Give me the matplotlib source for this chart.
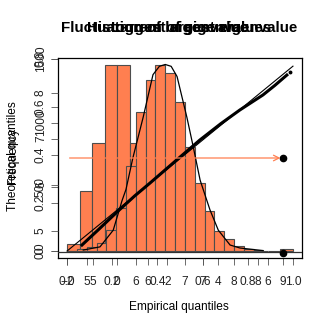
import numpy as np
import matplotlib
matplotlib.use("Agg")
import matplotlib.pyplot as plt

plt.rcParams["font.family"] = ["Liberation Sans", "DejaVu Sans"]

# ── data ─────────────────────────────────────────────────────
# histogram of all eigenvalues (bins 0.5 wide)
h1_edges = [-2.0, -1.5, -1.0, -0.5, 0.0, 0.5, 1.0, 1.5, 2.0, 2.5, 3.0, 3.5,
            4.0, 4.5, 5.0, 5.5, 6.0, 6.5, 7.0]
h1_counts = [55, 469, 844, 1453, 1453, 844, 0, 0, 0, 0, 0, 0,
             0, 0, 0, 0, 0, 16]
h1_yticks = [0, 500, 1000, 1500]

# histogram of the largest eigenvalue (bins 0.2 wide)
h2_edges = [4.6, 4.8, 5.0, 5.2, 5.4, 5.6, 5.8, 6.0, 6.2, 6.4, 6.6, 6.8, 7.0,
            7.2, 7.4, 7.6, 7.8, 8.0, 8.2, 8.4, 8.6]
h2_counts = [0, 5, 10, 20, 55, 115, 228, 375, 460, 500, 480, 400, 280,
             182, 107, 53, 31, 12, 5, 2]

dens_x = [4.93, 5.27, 5.54, 5.72, 5.80, 5.94, 6.15, 6.35, 6.48, 6.60, 6.72,
          6.84, 7.04, 7.17, 7.31, 7.51, 7.68, 7.92, 8.12, 8.59]
dens_y = [0.003, 0.02, 0.11, 0.27, 0.33, 0.50, 0.72, 0.95, 0.995, 1.005,
          0.995, 0.94, 0.72, 0.56, 0.38, 0.22, 0.11, 0.03, 0.014, 0.0]

# QQ plot
qq_line_x = [0.0, 1.0]
qq_line_y = [0.0, 0.77]
qq_emp = [0.066, 0.14, 0.221, 0.30, 0.367, 0.48, 0.588, 0.68, 0.765, 0.867,
          0.92, 0.973]
qq_theo = [0.025, 0.09, 0.1625, 0.23, 0.283, 0.375, 0.4625, 0.53, 0.5875,
           0.65, 0.69, 0.733]
qq_yticks = [0.0, 0.2, 0.4, 0.6, 0.8]

# fluctuation of the largest eigenvalue
fluct_mean = 6.587
fluct_start = 4.527
fluct_last = 8.455
fluct_min = 4.522
fluct_floor = 4.543
fluct_ticks = [5, 6, 7, 8]

FIG = 3.32
RECT = [58 / 332, 74 / 332, 244 / 332, 200 / 332]
ORANGE = "#FF7F50"
EDGE = "#4d4d4d"

fig = plt.figure(figsize=(FIG, FIG), dpi=100)


def overlay(xlim, ylim, pad=True):
    ax = fig.add_axes(RECT, facecolor="none")
    if pad:
        px = (xlim[1] - xlim[0]) * 0.04
        py = (ylim[1] - ylim[0]) * 0.04
        ax.set_xlim(xlim[0] - px, xlim[1] + px)
        ax.set_ylim(ylim[0] - py, ylim[1] + py)
    else:
        ax.set_xlim(*xlim)
        ax.set_ylim(*ylim)
    for s in ax.spines.values():
        s.set_visible(False)
    ax.tick_params(length=5, width=0.6, color="#555555", labelsize=8.6,
                   labelcolor="#222222")
    ax.tick_params(axis="x", pad=8)
    ax.tick_params(axis="y", pad=3)
    ax.set_xticks([])
    ax.set_yticks([])
    return ax


def rot_y(ax):
    for lab in ax.get_yticklabels():
        lab.set_rotation(90)
        lab.set_va("center")


# histogram 1 (0 at the baseline, 1500 at the top of the box)
ax1 = overlay((-2.36, 7.36), (-54.7, 1507.8), pad=False)
ax1.hist(h1_edges[:-1], bins=h1_edges, weights=h1_counts, color=ORANGE,
         edgecolor=EDGE, linewidth=0.8)
ax1.set_xticks([-2, 0, 2, 4, 6])
ax1.set_yticks(h1_yticks)
rot_y(ax1)

# histogram 2 + density
ax2 = overlay((4.6, 9.2), (0, max(h2_counts)))
ax2.hist(h2_edges[:-1], bins=h2_edges, weights=h2_counts, color=ORANGE,
         edgecolor=EDGE, linewidth=0.8)
ax3 = overlay((4.6, 9.2), (0, 1.0))
ax3.plot(dens_x, dens_y, color="black", linewidth=0.9)
ax3.set_xticks([5, 6, 7, 8, 9])

# QQ plot
ax4 = overlay((-0.04, 1.04), (-0.029, 0.804), pad=False)
ax4.plot(qq_line_x, qq_line_y, color="black", linewidth=0.8)
ax4.plot(qq_emp, qq_theo, color="black", linewidth=2.2)
ax4.plot([0.987], [0.746], "o", color="black", markersize=1.8)
ax4.set_xticks([0, 0.2, 0.4, 0.6, 0.8, 1.0])
ax4.set_xticklabels(["0.0", "0.2", "0.4", "0.6", "0.8", "1.0"])
ax4.set_yticks(qq_yticks)
ax4.set_yticklabels([f"{v:.1f}" for v in qq_yticks], rotation=90,
                    va="center")
for s in ax4.spines.values():
    s.set_visible(True)
    s.set_linewidth(0.9)

# fluctuation plot
ax5 = overlay((4.527 - 0.16, 8.636 + 0.16), (4.413, 8.761), pad=False)
ax5.axhline(fluct_floor, color="#333333", linewidth=0.9)
ax5.annotate("", xy=(fluct_last, fluct_mean), xytext=(fluct_start, fluct_mean),
             arrowprops=dict(arrowstyle="->", color=ORANGE, lw=0.9))
ax5.plot([fluct_last], [fluct_mean], "o", color="black", markersize=4.5)
ax5.plot([fluct_last], [fluct_min], "o", color="black", markersize=4.5)
ax5.set_xticks(fluct_ticks)
ax5.set_yticks(fluct_ticks)
rot_y(ax5)

for t in ["Fluctuation of largest eigenvalue", "Histogram of eigenvalues",
          "Largest eigenvalue"]:
    fig.text(0.54, 0.917, t, ha="center", va="center", fontsize=10.9,
             fontweight="bold")
fig.text(0.54, 0.075, "Empirical quantiles", ha="center", va="center",
         fontsize=8.6)
for t in ["Theoretical quantiles", "Frequency"]:
    fig.text(0.04, 0.53, t, ha="center", va="center", rotation=90,
             fontsize=8.6)

fig.savefig("out.png", dpi=100)
